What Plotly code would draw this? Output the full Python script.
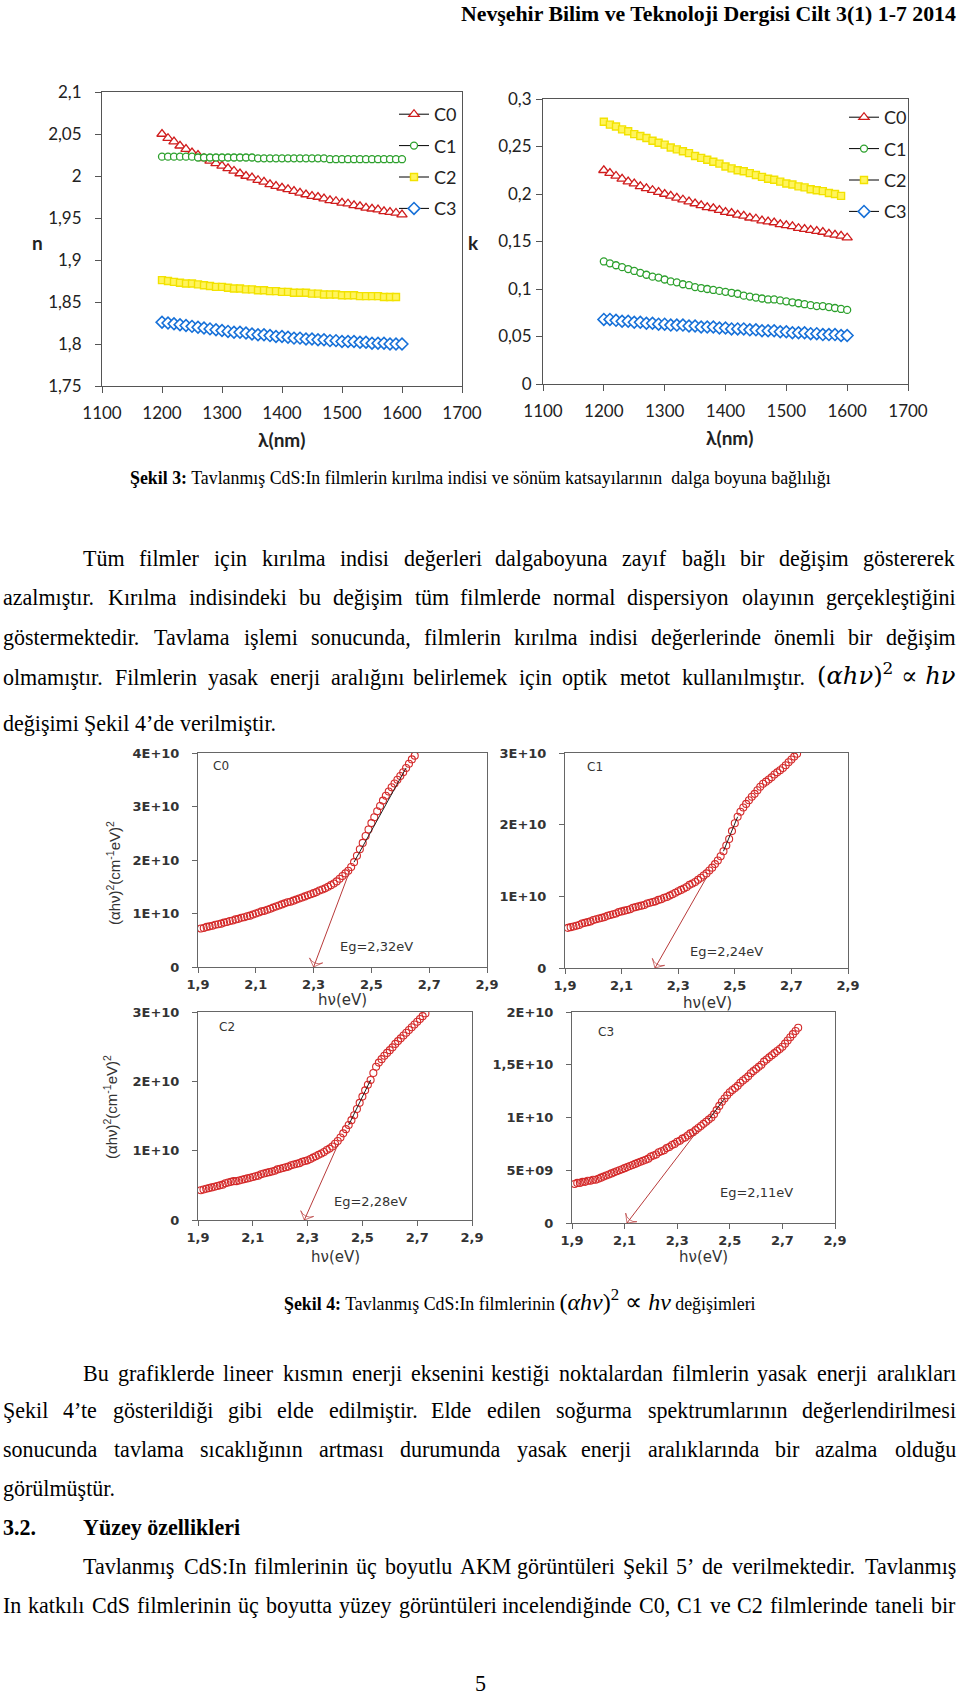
import plotly.graph_objects as go

W, H = 960, 1699

# ------------------------------------------------------------------ data
wavelength_nm = [1200, 1210, 1220, 1230, 1240, 1250, 1260, 1270, 1280, 1290, 1300,
                 1310, 1320, 1330, 1340, 1350, 1360, 1370, 1380, 1390, 1400,
                 1410, 1420, 1430, 1440, 1450, 1460, 1470, 1480, 1490, 1500,
                 1510, 1520, 1530, 1540, 1550, 1560, 1570, 1580, 1590, 1600]

n_C0 = [2.050, 2.045, 2.041, 2.036, 2.032, 2.028, 2.025, 2.021, 2.018, 2.015, 2.012,
        2.009, 2.006, 2.003, 2.000, 1.998, 1.995, 1.993, 1.990, 1.988, 1.986,
        1.984, 1.982, 1.980, 1.978, 1.976, 1.975, 1.973, 1.971, 1.970, 1.968,
        1.967, 1.965, 1.964, 1.962, 1.961, 1.960, 1.958, 1.957, 1.956, 1.954]
n_C1 = [2.023, 2.023, 2.023, 2.023, 2.023, 2.023, 2.022, 2.022, 2.022, 2.022, 2.022,
        2.022, 2.022, 2.022, 2.022, 2.022, 2.021, 2.021, 2.021, 2.021, 2.021,
        2.021, 2.021, 2.021, 2.021, 2.021, 2.021, 2.021, 2.020, 2.020, 2.020,
        2.020, 2.020, 2.020, 2.020, 2.020, 2.020, 2.020, 2.020, 2.020, 2.020]
n_C2 = [1.876, 1.875, 1.874, 1.873, 1.872, 1.872, 1.871, 1.870, 1.869, 1.868, 1.868,
        1.867, 1.866, 1.866, 1.865, 1.865, 1.864, 1.864, 1.863, 1.863, 1.862,
        1.862, 1.861, 1.861, 1.861, 1.860, 1.860, 1.859, 1.859, 1.859, 1.858,
        1.858, 1.858, 1.857, 1.857, 1.857, 1.857, 1.856, 1.856, 1.856]
n_C3 = [1.826, 1.825, 1.824, 1.823, 1.822, 1.821, 1.820, 1.819, 1.818, 1.817, 1.816,
        1.815, 1.814, 1.814, 1.813, 1.812, 1.811, 1.811, 1.810, 1.809, 1.809,
        1.808, 1.807, 1.807, 1.806, 1.806, 1.805, 1.805, 1.804, 1.804, 1.803,
        1.803, 1.803, 1.802, 1.802, 1.801, 1.801, 1.801, 1.800, 1.800, 1.800]

k_C0 = [0.225, 0.222, 0.219, 0.216, 0.213, 0.211, 0.208, 0.206, 0.204, 0.202, 0.200,
        0.198, 0.196, 0.194, 0.192, 0.190, 0.188, 0.186, 0.185, 0.183, 0.181,
        0.180, 0.178, 0.177, 0.175, 0.174, 0.172, 0.171, 0.170, 0.168, 0.167,
        0.166, 0.164, 0.163, 0.162, 0.161, 0.160, 0.158, 0.157, 0.156, 0.154]
k_C1 = [0.129, 0.127, 0.125, 0.123, 0.121, 0.119, 0.117, 0.115, 0.113, 0.112, 0.110,
        0.108, 0.107, 0.105, 0.104, 0.102, 0.101, 0.100, 0.099, 0.098, 0.097,
        0.096, 0.095, 0.093, 0.092, 0.091, 0.090, 0.089, 0.089, 0.088, 0.087,
        0.086, 0.085, 0.084, 0.083, 0.082, 0.082, 0.081, 0.080, 0.079, 0.078]
k_C2 = [0.276, 0.273, 0.271, 0.268, 0.266, 0.263, 0.261, 0.259, 0.256, 0.254, 0.252,
        0.249, 0.247, 0.245, 0.243, 0.240, 0.238, 0.236, 0.234, 0.232, 0.229,
        0.227, 0.225, 0.224, 0.222, 0.220, 0.218, 0.216, 0.215, 0.213, 0.211,
        0.210, 0.208, 0.207, 0.205, 0.204, 0.203, 0.201, 0.200, 0.198]
k_C3 = [0.068, 0.068, 0.067, 0.066, 0.066, 0.065, 0.065, 0.064, 0.064, 0.063, 0.063,
        0.062, 0.062, 0.062, 0.061, 0.061, 0.060, 0.060, 0.060, 0.059, 0.059,
        0.058, 0.058, 0.058, 0.057, 0.057, 0.056, 0.056, 0.056, 0.055, 0.055,
        0.054, 0.054, 0.054, 0.053, 0.053, 0.052, 0.052, 0.052, 0.051, 0.051]

series_names = ["C0", "C1", "C2", "C3"]

# photon energy (eV) and (alpha h nu)^2 in units of 1E+10 (cm^-1 eV)^2
hv_eV = [1.91, 1.92, 1.93, 1.94, 1.95, 1.96, 1.97, 1.98, 1.99, 2.00,
         2.01, 2.02, 2.03, 2.04, 2.05, 2.06, 2.07, 2.08, 2.09, 2.10,
         2.11, 2.12, 2.13, 2.14, 2.15, 2.16, 2.17, 2.18, 2.19, 2.20,
         2.21, 2.22, 2.23, 2.24, 2.25, 2.26, 2.27, 2.28, 2.29, 2.30,
         2.31, 2.32, 2.33, 2.34, 2.35, 2.36, 2.37, 2.38, 2.39, 2.40,
         2.41, 2.42, 2.43, 2.44, 2.45, 2.46, 2.47, 2.48, 2.49, 2.50,
         2.51, 2.52, 2.53, 2.54, 2.55, 2.56, 2.57, 2.58, 2.59, 2.60,
         2.61, 2.62, 2.63, 2.64, 2.65, 2.66, 2.67, 2.68, 2.69, 2.70,
         2.71, 2.72, 2.73, 2.74, 2.75, 2.76]

ahv2_C0 = [0.72, 0.73, 0.75, 0.76, 0.77, 0.79, 0.80, 0.81, 0.83, 0.84,
           0.86, 0.87, 0.89, 0.90, 0.92, 0.93, 0.95, 0.96, 0.98, 1.00,
           1.02, 1.04, 1.05, 1.07, 1.09, 1.11, 1.13, 1.15, 1.17, 1.19,
           1.21, 1.22, 1.24, 1.26, 1.28, 1.30, 1.32, 1.34, 1.36, 1.38,
           1.40, 1.43, 1.45, 1.47, 1.50, 1.53, 1.56, 1.60, 1.65, 1.70,
           1.75, 1.80, 1.87, 1.96, 2.08, 2.20, 2.32, 2.45, 2.57, 2.69,
           2.80, 2.91, 3.01, 3.11, 3.20, 3.28, 3.36, 3.43, 3.50, 3.57,
           3.64, 3.72, 3.80, 3.88, 3.95]
ahv2_C1 = [0.56, 0.57, 0.58, 0.59, 0.60, 0.62, 0.63, 0.64, 0.65, 0.67,
           0.68, 0.69, 0.70, 0.71, 0.73, 0.74, 0.75, 0.76, 0.78, 0.79,
           0.80, 0.81, 0.82, 0.84, 0.85, 0.86, 0.87, 0.88, 0.90, 0.91,
           0.92, 0.93, 0.95, 0.96, 0.98, 0.99, 1.01, 1.03, 1.05, 1.07,
           1.09, 1.11, 1.13, 1.16, 1.18, 1.20, 1.23, 1.26, 1.29, 1.32,
           1.36, 1.40, 1.45, 1.50, 1.56, 1.63, 1.71, 1.80, 1.91, 2.02,
           2.11, 2.18, 2.24, 2.29, 2.34, 2.39, 2.43, 2.48, 2.53, 2.57,
           2.60, 2.63, 2.66, 2.70, 2.73, 2.76, 2.79, 2.83, 2.87, 2.91,
           2.95, 2.99]
ahv2_C2 = [0.43, 0.44, 0.45, 0.46, 0.47, 0.48, 0.49, 0.50, 0.51, 0.53,
           0.54, 0.55, 0.56, 0.56, 0.57, 0.58, 0.59, 0.60, 0.61, 0.62,
           0.63, 0.64, 0.66, 0.67, 0.68, 0.69, 0.70, 0.71, 0.73, 0.74,
           0.75, 0.76, 0.77, 0.79, 0.80, 0.81, 0.82, 0.84, 0.85, 0.86,
           0.88, 0.90, 0.92, 0.94, 0.96, 0.98, 1.01, 1.03, 1.06, 1.10,
           1.14, 1.19, 1.25, 1.31, 1.37, 1.44, 1.51, 1.60, 1.69, 1.78,
           1.87, 1.95, 2.02, 2.12, 2.21, 2.27, 2.32, 2.37, 2.41, 2.45,
           2.49, 2.54, 2.58, 2.62, 2.66, 2.70, 2.74, 2.78, 2.82, 2.86,
           2.90, 2.94, 2.98]
ahv2_C3 = [0.37, 0.38, 0.38, 0.39, 0.39, 0.40, 0.40, 0.41, 0.41, 0.42,
           0.43, 0.44, 0.45, 0.46, 0.47, 0.48, 0.49, 0.50, 0.51, 0.52,
           0.53, 0.54, 0.55, 0.56, 0.57, 0.58, 0.59, 0.60, 0.61, 0.63,
           0.64, 0.65, 0.67, 0.68, 0.69, 0.71, 0.72, 0.74, 0.75, 0.77,
           0.78, 0.80, 0.81, 0.83, 0.85, 0.86, 0.88, 0.90, 0.92, 0.94,
           0.96, 0.98, 1.00, 1.03, 1.07, 1.11, 1.15, 1.18, 1.21, 1.24,
           1.26, 1.28, 1.30, 1.33, 1.35, 1.37, 1.39, 1.42, 1.44, 1.46,
           1.48, 1.50, 1.53, 1.55, 1.57, 1.59, 1.61, 1.63, 1.65, 1.67,
           1.70, 1.73, 1.76, 1.79, 1.82, 1.85]

eg_labels = ["Eg=2,32eV", "Eg=2,24eV", "Eg=2,28eV", "Eg=2,11eV"]
eg_label_pos = [(2.386, 0.38), (2.336, 0.23), (2.388, 0.27), (2.456, 0.29)]
arrow_tip_x = [2.300, 2.218, 2.288, 2.109]
arrow_start = [(2.426, 1.81), (2.401, 1.27), (2.412, 1.10), (2.379, 0.88)]
fit_x = [[2.44, 2.62], [2.46, 2.51], [2.45, 2.53], [2.42, 2.48]]
fit_y = [[1.96, 3.72], [1.63, 2.11], [1.37, 2.02], [0.98, 1.18]]
label_pos = [(1.98, 3.76), (2.006, 2.80), (2.006, 2.78), (2.03, 1.81)]

ahv_series = [ahv2_C0, ahv2_C1, ahv2_C2, ahv2_C3]
ahv_ymax = [4, 3, 3, 2]
ahv_ytickvals = [[0, 1, 2, 3, 4], [0, 1, 2, 3], [0, 1, 2, 3], [0, 0.5, 1, 1.5, 2]]
ahv_yticktext = [["0", "1E+10", "2E+10", "3E+10", "4E+10"],
                 ["0", "1E+10", "2E+10", "3E+10"],
                 ["0", "1E+10", "2E+10", "3E+10"],
                 ["0", "5E+09", "1E+10", "1,5E+10", "2E+10"]]
hv_tickvals = [1.9, 2.1, 2.3, 2.5, 2.7, 2.9]
hv_ticktext = ["1,9", "2,1", "2,3", "2,5", "2,7", "2,9"]
lam_tickvals = [1100, 1200, 1300, 1400, 1500, 1600, 1700]
lam_ticktext = ["1100", "1200", "1300", "1400", "1500", "1600", "1700"]
n_tickvals = [1.75, 1.8, 1.85, 1.9, 1.95, 2.0, 2.05, 2.1]
n_ticktext = ["1,75", "1,8", "1,85", "1,9", "1,95", "2", "2,05", "2,1"]
k_tickvals = [0, 0.05, 0.1, 0.15, 0.2, 0.25, 0.3]
k_ticktext = ["0", "0,05", "0,1", "0,15", "0,2", "0,25", "0,3"]

header_text = "Nevşehir Bilim ve Teknoloji Dergisi Cilt 3(1) 1-7 2014"
caption3_bold = "Şekil 3:"
caption3_text = "Tavlanmış CdS:In filmlerin kırılma indisi ve sönüm katsayılarının  dalga boyuna bağlılığı"
caption4_bold = "Şekil 4:"
caption4_pre = "Tavlanmış CdS:In filmlerinin"
caption4_post = "değişimleri"
formula_html = "(<i>αhν</i>)<sup>2</sup> ∝ <i>hν</i>"
para1 = [
    "Tüm filmler için kırılma indisi değerleri dalgaboyuna zayıf bağlı bir değişim göstererek",
    "azalmıştır. Kırılma indisindeki bu değişim tüm filmlerde normal dispersiyon olayının gerçekleştiğini",
    "göstermektedir. Tavlama işlemi sonucunda, filmlerin kırılma indisi değerlerinde önemli bir değişim",
    "olmamıştır. Filmlerin yasak enerji aralığını belirlemek için optik metot kullanılmıştır.",
    "değişimi Şekil 4’de verilmiştir.",
]
para2 = [
    "Bu grafiklerde lineer kısmın enerji eksenini kestiği noktalardan filmlerin yasak enerji aralıkları",
    "Şekil 4’te gösterildiği gibi elde edilmiştir. Elde edilen soğurma spektrumlarının değerlendirilmesi",
    "sonucunda tavlama sıcaklığının artması durumunda yasak enerji aralıklarında bir azalma olduğu",
    "görülmüştür.",
]
section_num = "3.2."
section_title = "Yüzey özellikleri"
para3 = [
    "Tavlanmış CdS:In filmlerinin üç boyutlu AKM görüntüleri Şekil 5’ de verilmektedir. Tavlanmış",
    "In katkılı CdS filmlerinin üç boyutta yüzey görüntüleri incelendiğinde C0, C1 ve C2 filmlerinde taneli bir",
]
page_number = "5"

# ------------------------------------------------------------------ helpers
def px(x):
    return x / W


def py(y):
    return 1 - y / H


def dx(a, b):
    return [a / W, b / W]


def dy(top, bottom):
    return [1 - bottom / H, 1 - top / H]


TIMES = {' ': 250, 'a': 444, 'b': 500, 'c': 444, 'd': 500, 'e': 444, 'f': 333, 'g': 500,
         'h': 500, 'i': 278, 'j': 278, 'k': 500, 'l': 278, 'm': 778, 'n': 500, 'o': 500,
         'p': 500, 'q': 500, 'r': 333, 's': 389, 't': 278, 'u': 500, 'v': 500, 'w': 722,
         'x': 500, 'y': 500, 'z': 444, 'A': 722, 'B': 667, 'C': 667, 'D': 722, 'E': 611,
         'F': 556, 'G': 722, 'H': 722, 'I': 333, 'J': 389, 'K': 722, 'L': 611, 'M': 889,
         'N': 722, 'O': 722, 'P': 556, 'Q': 722, 'R': 667, 'S': 556, 'T': 611, 'U': 722,
         'V': 722, 'W': 944, 'X': 722, 'Y': 722, 'Z': 611, '.': 250, ',': 250, ':': 278,
         ';': 278, '’': 333, "'": 180, '(': 333, ')': 333, '-': 333, 'ı': 278, 'ş': 389,
         'ğ': 500, 'ü': 500, 'ö': 500, 'ç': 444, 'Ş': 556, 'İ': 333, 'Ü': 722, 'Ö': 722,
         'Ç': 667}


def tw(s):
    return sum(TIMES.get(c, 500) for c in s) / 1000.0


SERIF = "Liberation Serif, Times New Roman, serif"
annotations = []


def text_ann(txt, x, y, size, anchor="left", family=SERIF, color="black", bold=False):
    annotations.append(dict(text=("<b>%s</b>" % txt) if bold else txt,
                            x=px(x), y=py(y), xref="paper", yref="paper",
                            xanchor=anchor, yanchor="middle", showarrow=False,
                            font=dict(family=family, size=size, color=color),
                            borderpad=0))


def place_line(line, y, size, x0=2, x1=957, indent=0, justify=True):
    """Justified line: words of the first half anchored on their left edge,
    words of the second half on their right edge, so estimate errors meet in the middle."""
    words = line.split()
    widths = [tw(w) * size for w in words]
    start = x0 + indent
    n = len(words)
    if justify and n > 1:
        gap = (x1 - start - sum(widths)) / (n - 1)
    else:
        gap = tw(' ') * size
    x = start
    for i, (w, wd) in enumerate(zip(words, widths)):
        if justify and n > 1 and i >= n / 2:
            text_ann(w, x + wd, y, size, anchor="right")
        else:
            text_ann(w, x, y, size, anchor="left")
        x += wd + gap


# body font size fitted to the tightest justified line, with some slack
just_lines = [(para1[0], 955 - 80), (para1[1], 955), (para1[2], 955), (para1[3], 806),
              (para2[0], 955 - 80), (para2[1], 955), (para2[2], 955),
              (para3[0], 955 - 80), (para3[1], 955)]
body_size = min(av / tw(t) for t, av in just_lines) * 0.975

# ------------------------------------------------------------------ figure
fig = go.Figure()

marker_styles = [
    dict(symbol="triangle-up", size=9, color="white", line=dict(color="#d01c1c", width=1.3)),
    dict(symbol="circle", size=7, color="white", line=dict(color="#2ca02c", width=1.3)),
    dict(symbol="square", size=7, color="#fff45c", line=dict(color="#f2e200", width=1.4)),
    dict(symbol="diamond", size=9, color="white", line=dict(color="#1670d8", width=1.6)),
]

for i, (name, ys) in enumerate(zip(series_names, [n_C0, n_C1, n_C2, n_C3])):
    fig.add_trace(go.Scatter(x=wavelength_nm[:len(ys)], y=ys, mode="lines+markers", name=name,
                             line=dict(color="black", width=1), marker=marker_styles[i],
                             xaxis="x", yaxis="y", legend="legend", legendgroup="n" + name))
for i, (name, ys) in enumerate(zip(series_names, [k_C0, k_C1, k_C2, k_C3])):
    fig.add_trace(go.Scatter(x=wavelength_nm[:len(ys)], y=ys, mode="lines+markers", name=name,
                             line=dict(color="black", width=1), marker=marker_styles[i],
                             xaxis="x2", yaxis="y2", legend="legend2", legendgroup="k" + name))

for i, ys in enumerate(ahv_series):
    ax_id = str(i + 3)
    fig.add_trace(go.Scatter(x=hv_eV[:len(ys)], y=ys, mode="markers", showlegend=False,
                             marker=dict(symbol="circle-open", size=7,
                                         color="#d42a2a", line=dict(width=1.1)),
                             xaxis="x" + ax_id, yaxis="y" + ax_id))
    fig.add_trace(go.Scatter(x=fit_x[i], y=fit_y[i], mode="lines", showlegend=False,
                             line=dict(color="#222222", width=1),
                             xaxis="x" + ax_id, yaxis="y" + ax_id))
    # arrow from the knee of the curve down to the band-gap energy on the axis
    fig.add_trace(go.Scatter(x=[arrow_start[i][0], arrow_tip_x[i]], y=[arrow_start[i][1], 0],
                             mode="lines+markers", showlegend=False,
                             line=dict(color="#b83a3a", width=1),
                             marker=dict(symbol=["circle", "arrow-wide-open"], size=[0, 10],
                                         angleref="previous", color="#b83a3a",
                                         line=dict(color="#b83a3a", width=1)),
                             cliponaxis=False,
                             xaxis="x" + ax_id, yaxis="y" + ax_id))

# ------------------------------------------------------------------ axes
TOPFONT = "Lato, Open Sans, sans-serif"
top_tick = dict(family=TOPFONT, size=17, color="#222")
common_top = dict(showline=True, linecolor="#555", linewidth=1, mirror=True,
                  ticks="outside", ticklen=6, tickcolor="#555", showgrid=False,
                  zeroline=False, tickfont=top_tick, automargin=False)

SMALLFONT = "DejaVu Sans, Verdana, sans-serif"
small_tick = dict(family=SMALLFONT, size=13, color="#333", weight="bold")
common_small = dict(showline=True, linecolor="#666", linewidth=1, mirror=True,
                    ticks="outside", ticklen=5, tickcolor="#666", showgrid=False,
                    zeroline=False, tickfont=small_tick, automargin=False)

layout = dict(
    width=W, height=H, autosize=False,
    margin=dict(l=0, r=0, t=0, b=0, pad=0, autoexpand=False),
    paper_bgcolor="white", plot_bgcolor="white",
    xaxis=dict(domain=dx(102, 462), anchor="y", range=[1100, 1700],
               tickvals=lam_tickvals, ticktext=lam_ticktext, ticklabelstandoff=6, **common_top),
    yaxis=dict(domain=dy(92, 386), anchor="x", range=[1.75, 2.1],
               tickvals=n_tickvals, ticktext=n_ticktext, ticklabelstandoff=10, **common_top),
    xaxis2=dict(domain=dx(543, 908), anchor="y2", range=[1100, 1700],
                tickvals=lam_tickvals, ticktext=lam_ticktext, ticklabelstandoff=6, **common_top),
    yaxis2=dict(domain=dy(99, 384), anchor="x2", range=[0, 0.3],
                tickvals=k_tickvals, ticktext=k_ticktext, ticklabelstandoff=1, **common_top),
    legend=dict(x=px(394), y=py(96), xanchor="left", yanchor="top",
                font=dict(family=TOPFONT, size=18, color="#222"),
                bgcolor="rgba(0,0,0,0)", tracegroupgap=5, itemwidth=30),
    legend2=dict(x=px(844), y=py(99), xanchor="left", yanchor="top",
                 font=dict(family=TOPFONT, size=18, color="#222"),
                 bgcolor="rgba(0,0,0,0)", tracegroupgap=5, itemwidth=30),
)

small_domains = [((198, 487), (753, 967)), ((565, 848), (753, 968)),
                 ((198, 472), (1012, 1220)), ((572, 835), (1012, 1223))]
for i, ((xa, xb), (yt, yb)) in enumerate(small_domains):
    ax_id = str(i + 3)
    layout["xaxis" + ax_id] = dict(domain=dx(xa, xb), anchor="y" + ax_id, range=[1.9, 2.9],
                                   tickvals=hv_tickvals, ticktext=hv_ticktext, **common_small)
    layout["yaxis" + ax_id] = dict(domain=dy(yt, yb), anchor="x" + ax_id,
                                   range=[0, ahv_ymax[i]], tickvals=ahv_ytickvals[i],
                                   ticktext=ahv_yticktext[i], ticklabelstandoff=10,
                                   **common_small)
    annotations.append(dict(x=eg_label_pos[i][0], y=eg_label_pos[i][1], text=eg_labels[i],
                            xref="x" + ax_id, yref="y" + ax_id, xanchor="left",
                            yanchor="middle", showarrow=False,
                            font=dict(family=SMALLFONT, size=13, color="#333")))
    annotations.append(dict(x=label_pos[i][0], y=label_pos[i][1], text=series_names[i],
                            xref="x" + ax_id, yref="y" + ax_id, xanchor="center",
                            yanchor="middle", showarrow=False,
                            font=dict(family=SMALLFONT, size=12, color="#333")))

# axis titles of the small charts
for (cx, cy) in [(342, 1000), (707, 1003), (335, 1257), (703, 1257)]:
    text_ann("hν(eV)", cx, cy, 15, anchor="center", family=SMALLFONT, color="#333")
ytitle = "(αhν)<sup>2</sup>(cm<sup>-1</sup>eV)<sup>2</sup>"
for (cx, cy) in [(113, 873), (110, 1107)]:
    annotations.append(dict(text=ytitle, x=px(cx), y=py(cy), xref="paper", yref="paper",
                            textangle=-90, showarrow=False, xanchor="center", yanchor="middle",
                            font=dict(family="Liberation Sans Narrow, Liberation Sans, sans-serif",
                                      size=15, color="#333")))

# titles of the top charts
text_ann("<b>λ(nm)</b>", 282, 439, 19, anchor="center", family=TOPFONT, color="#222")
text_ann("<b>λ(nm)</b>", 730, 437, 19, anchor="center", family=TOPFONT, color="#222")
text_ann("<b>n</b>", 37, 243, 19, anchor="center", family=TOPFONT, color="#222")
text_ann("<b>k</b>", 473, 243, 19, anchor="center", family=TOPFONT, color="#222")

# ------------------------------------------------------------------ page text
header_size = 493 / (tw(header_text) * 1.02)
text_ann(header_text, 957, 14, header_size, anchor="right", bold=True)

cap_size = 708 / (tw(caption3_bold + " " + caption3_text) * 1.01)
text_ann("<b>%s</b> %s" % (caption3_bold, caption3_text), 480, 478, cap_size, anchor="center")

p1_y = [558, 597, 637, 677, 723]
place_line(para1[0], p1_y[0], body_size, indent=80)
place_line(para1[1], p1_y[1], body_size)
place_line(para1[2], p1_y[2], body_size)
place_line(para1[3], p1_y[3], body_size, x1=806)
text_ann(formula_html, 957, p1_y[3] - 3, body_size * 1.1, anchor="right",
         family="DejaVu Serif, serif")
place_line(para1[4], p1_y[4], body_size, justify=False)

cap4 = ("<b>%s</b> %s <span style='font-size:%dpx'>%s</span> %s"
        % (caption4_bold, caption4_pre, round(cap_size * 1.35), formula_html, caption4_post))
text_ann(cap4, 520, 1300, cap_size, anchor="center")

p2_y = [1373, 1410, 1449, 1488]
place_line(para2[0], p2_y[0], body_size, indent=80)
place_line(para2[1], p2_y[1], body_size)
place_line(para2[2], p2_y[2], body_size)
place_line(para2[3], p2_y[3], body_size, justify=False)

text_ann(section_num, 2, 1527, body_size, bold=True)
text_ann(section_title, 82, 1527, body_size, bold=True)

place_line(para3[0], 1566, body_size, indent=80)
place_line(para3[1], 1605, body_size)

text_ann(page_number, 480, 1683, body_size, anchor="center")

layout["annotations"] = annotations
fig.update_layout(**layout)
fig.write_html("out.html")
